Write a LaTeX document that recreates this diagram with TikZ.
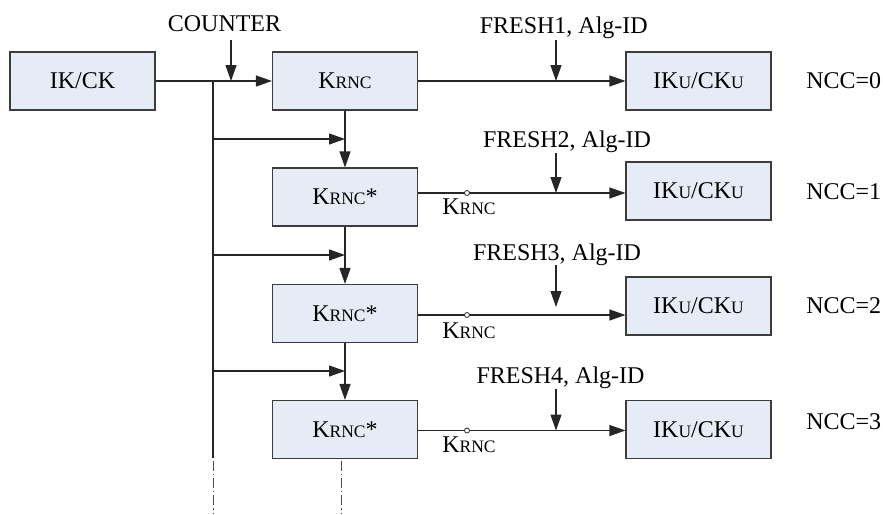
\documentclass[tikz,border=0pt]{standalone}
\usepackage{fontspec}
\setmainfont{Liberation Serif}
\usetikzlibrary{arrows.meta}
\definecolor{boxfill}{RGB}{230,236,246}
\definecolor{boxline}{RGB}{60,60,60}
\newcommand{\smp}[1]{{\fontsize{17.5}{20}\selectfont #1}}
\newcommand{\krncTxt}{K\smp{RNC}}
\newcommand{\ikuTxt}{IK\smp{U}/CK\smp{U}}
\begin{document}
\begin{tikzpicture}[x=1pt,y=-1pt,
  font=\fontsize{24}{28}\selectfont,
  keybox/.style={draw=boxline,fill=boxfill,line width=1.1pt,minimum width=145pt,minimum height=58pt,inner sep=0pt},
  conn/.style={line width=1.1pt,draw=black!85},
  arr/.style={conn,-{Triangle[length=16pt,width=11pt]}},
  lbl/.style={anchor=base,inner sep=0pt},
  dd/.style={line width=0.9pt,draw=black!70,dash pattern=on 10pt off 3pt on 1.2pt off 3pt},
  tap/.style={circle,draw=black!85,fill=white,line width=0.8pt,minimum size=5pt,inner sep=0pt}]
\useasboundingbox (0,0) rectangle (883,514);
% boxes
\node[keybox] (ikck) at (82.5,81) {IK/CK};
\node[keybox] (k0) at (345,81) {\krncTxt};
\node[keybox] (k1) at (345,197) {\krncTxt*};
\node[keybox] (k2) at (345,313.5) {\krncTxt*};
\node[keybox] (k3) at (345,429.5) {\krncTxt*};
\node[keybox] (u0) at (698.5,81) {\ikuTxt};
\node[keybox] (u1) at (698.5,191) {\ikuTxt};
\node[keybox] (u2) at (698.5,306) {\ikuTxt};
\node[keybox] (u3) at (698.5,429.5) {\ikuTxt};
% NCC labels
\node[lbl] (n0) at (843.7,88) {NCC=0};
\node[lbl] (n1) at (843.7,199) {NCC=1};
\node[lbl] (n2) at (843.7,313) {NCC=2};
\node[lbl] (n3) at (843.7,429) {NCC=3};
% top labels
\node[lbl] (cnt) at (224.5,31) {COUNTER};
\node[lbl] (f1) at (563.8,33) {FRESH1, Alg-ID};
\node[lbl] (f2) at (567,147) {FRESH2, Alg-ID};
\node[lbl] (f3) at (557,260) {FRESH3, Alg-ID};
\node[lbl] (f4) at (560.5,383) {FRESH4, Alg-ID};
% line levels
\coordinate (l0) at (0,81);
\coordinate (l1) at (0,193);
\coordinate (l2) at (0,315);
\coordinate (l3) at (0,430.5);
% trunk
\coordinate (tr) at (213,81);
\coordinate (trb) at (213,458);
\coordinate (tre) at (213,514);
\coordinate (vd) at (341,514);
% input
\draw[arr] (ikck.east) -- (k0.west);
\coordinate (ca) at (231,40);
\draw[arr] (ca) -- (ca |- l0);
\draw[conn] (tr) -- (trb);
\draw[dd] (213,461) -- (tre);
\draw[dd] (341,461) -- (vd);
% vertical chain
\draw[arr] (k0.south) -- (k1.north);
\draw[arr] (k1.south) -- (k2.north);
\draw[arr] (k2.south) -- (k3.north);
\coordinate (b1) at (213,139);
\coordinate (b2) at (213,255);
\coordinate (b3) at (213,371);
\draw[arr] (b1) -- (b1 -| k1.north);
\draw[arr] (b2) -- (b2 -| k2.north);
\draw[arr] (b3) -- (b3 -| k3.north);
% horizontal outputs
\draw[arr] (k0.east |- l0) -- (u0.west |- l0);
\draw[arr] (k1.east |- l1) -- (u1.west |- l1);
\draw[arr] (k2.east |- l2) -- (u2.west |- l2);
\draw[arr] (k3.east |- l3) -- (u3.west |- l3);
% taps
\node[tap] (t1) at (467,193) {};
\node[tap] (t2) at (467,315) {};
\node[tap] (t3) at (467,430.5) {};
\node[lbl] (kl1) at (469,214) {\krncTxt};
\node[lbl] (kl2) at (469,338) {\krncTxt};
\node[lbl] (kl3) at (469,452) {\krncTxt};
% FRESH arrows
\coordinate (fa1) at (556,40);
\coordinate (fa2) at (556,153);
\coordinate (fa3) at (556,265);
\coordinate (fa4) at (556,389);
\draw[arr] (fa1) -- (fa1 |- l0);
\draw[arr] (fa2) -- (fa2 |- l1);
\draw[arr] (fa3) -- (556,307);
\draw[arr] (fa4) -- (fa4 |- l3);
\end{tikzpicture}
\end{document}
